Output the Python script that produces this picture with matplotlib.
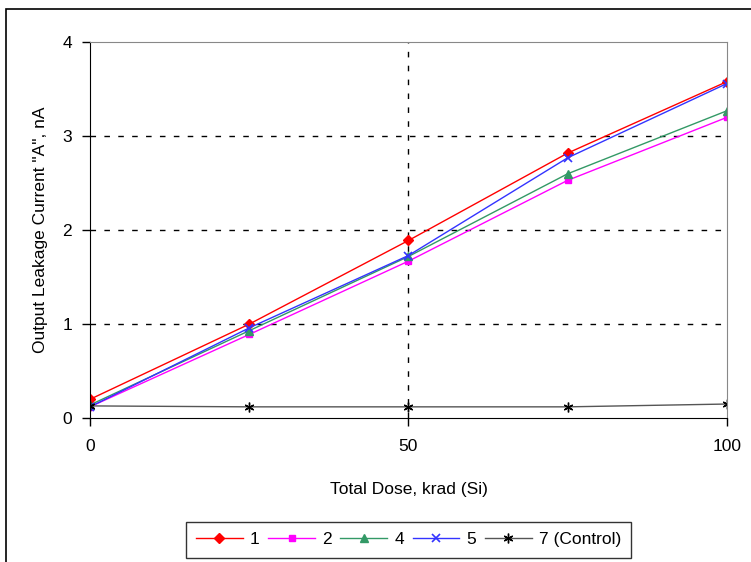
import matplotlib
matplotlib.use("Agg")
import matplotlib.pyplot as plt
from matplotlib.patches import Rectangle

plt.rcParams['font.family'] = ['Liberation Sans', 'DejaVu Sans']

dose = [0, 25, 50, 75, 100]
s1 = [0.20, 1.00, 1.89, 2.82, 3.58]
s2 = [0.12, 0.89, 1.67, 2.53, 3.20]
s4 = [0.14, 0.93, 1.72, 2.60, 3.27]
s5 = [0.12, 0.96, 1.73, 2.77, 3.56]
s7 = [0.13, 0.12, 0.12, 0.12, 0.15]

fig = plt.figure(figsize=(7.51, 5.62), dpi=100)
ax = fig.add_axes([0.1198, 0.256, 0.8482, 0.669])

# outer frame of the chart area
fig.patches.append(Rectangle((0.008, -0.1), 1.2, 1.084, transform=fig.transFigure,
                             fill=False, edgecolor='black', linewidth=1.2))

ax.plot(dose, s1, color='#ff0000', marker='D', markersize=5, linewidth=1, label='1')
ax.plot(dose, s2, color='#ff00ff', marker='s', markersize=5, linewidth=1, label='2')
ax.plot(dose, s4, color='#339966', marker='^', markersize=6, linewidth=1, label='4')
ax.plot(dose, s5, color='#3333ff', marker='x', markersize=6, markeredgewidth=1.2,
        linewidth=1, label='5')
ax.plot(dose, s7, color='#555555', marker=(6, 2, 0), markersize=7, markeredgecolor='black',
        markeredgewidth=1, linewidth=1, label='7 (Control)')

ax.set_xlim(0, 100)
ax.set_ylim(0, 4)
ax.set_xticks([0, 50, 100])
ax.set_yticks([0, 1, 2, 3, 4])
ax.tick_params(direction='out', length=6, width=1, labelsize=12.5, colors='black')
ax.tick_params(axis='x', pad=9)
ax.tick_params(axis='y', pad=7)

ax.grid(True, color='black', linestyle=(0, (4, 6)), linewidth=1)
# no grid on top of the frame
for g in [ax.xaxis.get_gridlines()[0], ax.xaxis.get_gridlines()[-1],
          ax.yaxis.get_gridlines()[0], ax.yaxis.get_gridlines()[-1]]:
    g.set_visible(False)
for side in ['top', 'right']:
    ax.spines[side].set_color('#888888')
for side in ['left', 'bottom']:
    ax.spines[side].set_color('black')

ax.set_xlabel('Total Dose, krad (Si)', fontsize=12.5, labelpad=20)
ax.set_ylabel('Output Leakage Current "A", nA', fontsize=12.5, labelpad=10)

leg = ax.legend(loc='upper center', bbox_to_anchor=(0.5, -0.252), ncol=5,
                frameon=True, fancybox=False, edgecolor='black', fontsize=12.5,
                handlelength=2.7, handletextpad=0.4, columnspacing=0.5,
                borderpad=0.6)
leg.get_frame().set_linewidth(1)

fig.savefig('out.png', dpi=100)
